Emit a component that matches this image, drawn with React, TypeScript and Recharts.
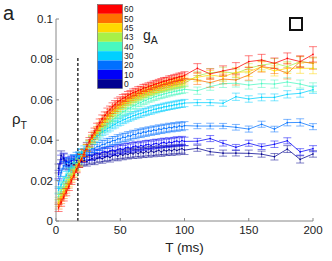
import { LineChart, Line, XAxis, YAxis, ErrorBar, ReferenceLine, Legend } from 'recharts';

const FONT = '"Liberation Sans", Arial, sans-serif';

// T (ms): every 2 ms up to 100, then every 10 ms
const T_DENSE = [
  2, 4, 6, 8, 10, 12, 14, 16, 18, 20, 22, 24, 26, 28, 30, 32, 34, 36, 38, 40, 42, 44, 46, 48, 50,
  52, 54, 56, 58, 60, 62, 64, 66, 68, 70, 72, 74, 76, 78, 80, 82, 84, 86, 88, 90, 92, 94, 96, 98, 100,
];
const T_SPARSE = [110, 120, 130, 140, 150, 160, 170, 180, 190, 200];
const T_MS = [...T_DENSE, ...T_SPARSE];

const G_A = ['0', '10', '20', '30', '40', '43', '45', '50', '60'];
const COLORS = ['#000090', '#0000f8', '#0070ff', '#00d0ff', '#48f8c0', '#a8f048', '#ffd800', '#ff7000', '#ff0000'];

// rho_T, in units of 1e-3 (dense part then sparse part)
const RHO_0 = [
  26.0, 32.5, 31.0, 28.0, 27.5, 28.5, 28.0, 29.0, 28.8, 29.5, 30.0, 29.4, 30.3, 30.8, 30.1, 31.0, 31.5, 30.8, 31.6, 32.1,
  31.4, 32.3, 32.8, 32.0, 33.1, 32.5, 33.4, 32.9, 33.7, 33.2, 34.0, 33.3, 34.2, 33.6, 34.4, 33.8, 34.7, 34.0, 34.5, 35.0,
  34.2, 35.1, 34.6, 35.3, 34.7, 35.5, 34.9, 35.4, 35.8, 35.1,
  36.0, 34.3, 33.6, 33.6, 33.5, 33.1, 31.8, 35.6, 30.5, 33.2,
];
const RHO_10 = [
  23.0, 30.5, 31.5, 29.5, 29.0, 29.8, 30.3, 30.0, 31.0, 31.4, 31.0, 32.1, 32.5, 32.0, 33.1, 33.4, 33.0, 34.0, 34.3, 33.9,
  34.8, 35.1, 34.6, 35.5, 35.8, 35.3, 36.2, 36.5, 36.0, 36.8, 37.1, 36.6, 37.4, 37.0, 37.7, 37.9, 37.4, 38.1, 38.4, 37.9,
  38.6, 38.9, 38.4, 39.1, 38.7, 39.3, 39.6, 39.1, 39.8, 39.4,
  39.5, 40.8, 38.5, 36.5, 38.5, 36.8, 38.0, 39.7, 34.2, 35.8,
];
const RHO_20 = [
  18.2, 24.1, 27.3, 28.8, 29.4, 30.6, 30.9, 32.0, 32.2, 33.4, 33.5, 34.6, 34.7, 35.8, 35.9, 36.9, 37.0, 37.9, 38.0, 38.9,
  38.9, 39.8, 39.8, 40.7, 40.6, 41.5, 41.3, 42.2, 42.0, 42.9, 42.7, 43.6, 43.3, 44.1, 43.9, 44.6, 44.4, 45.1, 44.8, 45.6,
  45.3, 46.0, 45.7, 46.4, 46.1, 46.7, 46.4, 47.1, 46.7, 47.2,
  47.0, 47.0, 47.0, 46.4, 45.5, 47.9, 45.5, 48.7, 48.8, 46.7,
];
const RHO_30 = [
  15.2, 17.9, 20.1, 22.7, 24.6, 26.9, 28.6, 30.7, 32.2, 34.1, 35.4, 37.1, 38.3, 39.8, 40.8, 42.1, 42.9, 44.1, 44.8, 45.8,
  46.4, 47.4, 47.9, 48.8, 49.2, 50.0, 50.4, 51.1, 51.4, 52.1, 52.4, 53.0, 53.2, 53.8, 54.0, 54.6, 54.7, 55.3, 55.4, 55.9,
  56.0, 56.5, 56.6, 57.0, 57.1, 57.5, 57.6, 58.0, 58.0, 58.4,
  58.6, 58.6, 58.3, 61.5, 60.4, 61.2, 61.2, 62.7, 63.2, 65.0,
];
const RHO_40 = [
  12.2, 14.9, 17.2, 19.8, 21.7, 24.3, 26.1, 28.6, 30.2, 32.5, 34.0, 36.2, 37.5, 39.6, 40.8, 42.7, 43.7, 45.5, 46.4, 48.0,
  48.8, 50.2, 50.9, 52.2, 52.8, 54.0, 54.5, 55.6, 56.0, 57.0, 57.4, 58.3, 58.6, 59.4, 59.7, 60.5, 60.7, 61.4, 61.6, 62.2,
  62.4, 62.9, 63.1, 63.6, 63.7, 64.2, 64.3, 64.7, 64.8, 65.2,
  64.5, 66.5, 68.0, 68.2, 67.3, 68.0, 67.8, 68.8, 67.8, 66.2,
];
const RHO_43 = [
  10.0, 12.7, 15.0, 17.8, 19.9, 22.6, 24.7, 27.3, 29.3, 31.8, 33.7, 36.1, 37.9, 40.2, 41.8, 43.9, 45.4, 47.3, 48.5, 50.2,
  51.2, 52.8, 53.7, 55.1, 55.8, 57.0, 57.6, 58.7, 59.2, 60.2, 60.6, 61.5, 61.8, 62.6, 62.8, 63.6, 63.8, 64.5, 64.6, 65.3,
  65.4, 66.0, 66.0, 66.6, 66.6, 67.2, 67.2, 67.7, 67.7, 68.2,
  71.9, 73.4, 73.9, 73.1, 75.6, 77.2, 78.1, 76.4, 78.9, 78.1,
];
const RHO_45 = [
  8.8, 11.5, 13.9, 16.6, 18.9, 21.6, 23.9, 26.6, 28.9, 31.4, 33.6, 36.1, 38.1, 40.4, 42.2, 44.4, 46.0, 48.0, 49.4, 51.1,
  52.3, 53.8, 54.8, 56.1, 56.9, 58.0, 58.7, 59.7, 60.2, 61.1, 61.5, 62.3, 62.7, 63.4, 63.7, 64.4, 64.6, 65.3, 65.5, 66.1,
  66.3, 66.9, 67.0, 67.6, 67.7, 68.3, 68.4, 68.9, 69.0, 69.5,
  71.1, 72.3, 71.4, 73.6, 73.9, 76.4, 74.3, 75.6, 75.6, 75.6,
];
const RHO_50 = [
  7.6, 10.3, 12.8, 15.5, 18.0, 20.8, 23.2, 26.1, 28.5, 31.1, 33.5, 36.1, 38.5, 40.9, 42.9, 45.1, 46.9, 49.0, 50.4, 52.2,
  53.4, 55.0, 55.9, 57.3, 58.0, 59.1, 59.8, 60.7, 61.3, 62.1, 62.6, 63.3, 63.7, 64.4, 64.6, 65.4, 65.6, 66.3, 66.5, 67.1,
  67.3, 67.9, 68.0, 68.6, 68.8, 69.3, 69.4, 70.0, 70.0, 70.6,
  69.8, 68.5, 70.3, 69.8, 72.3, 76.4, 75.6, 73.1, 78.9, 78.1,
];
const RHO_60 = [
  6.5, 9.1, 11.7, 14.3, 16.9, 19.9, 22.4, 25.7, 28.3, 31.1, 33.8, 36.9, 39.5, 42.1, 44.2, 46.6, 48.7, 50.7, 52.2, 54.1,
  55.1, 56.7, 57.8, 59.0, 59.7, 60.8, 61.2, 62.3, 62.8, 63.6, 63.9, 64.7, 64.9, 65.8, 66.0, 66.6, 66.9, 67.5, 67.8, 68.3,
  68.7, 69.2, 69.3, 70.0, 70.1, 70.6, 70.9, 71.4, 71.5, 72.1,
  75.6, 72.8, 74.3, 75.6, 78.9, 79.7, 78.1, 80.5, 78.9, 82.5,
];

// error bars (1e-3): one typical value for the dense part, then per point for T > 100
const ERR_DENSE = [2.2, 2.1, 2.0, 1.8, 1.7, 1.7, 1.7, 1.7, 1.8];
const ERR_0 = [1.5, 1.6, 1.5, 1.4, 1.6, 1.5, 1.6, 1.7, 1.8, 1.6];
const ERR_10 = [1.4, 1.5, 1.4, 1.4, 1.5, 1.4, 1.6, 1.5, 1.6, 1.5];
const ERR_20 = [1.3, 1.4, 1.3, 1.4, 1.5, 1.5, 1.4, 1.6, 1.8, 1.5];
const ERR_30 = [1.5, 1.5, 1.5, 1.8, 1.6, 1.7, 1.7, 1.8, 1.9, 1.8];
const ERR_40 = [1.8, 1.8, 1.9, 1.9, 2.0, 1.9, 2.0, 2.1, 2.0, 2.2];
const ERR_43 = [2.0, 2.1, 2.2, 2.1, 2.3, 2.4, 2.3, 2.5, 2.4, 2.6];
const ERR_45 = [2.1, 2.2, 2.2, 2.3, 2.4, 2.4, 2.5, 2.6, 2.5, 2.7];
const ERR_50 = [2.2, 2.3, 2.4, 2.5, 2.6, 2.7, 2.6, 2.8, 2.7, 3.0];
const ERR_60 = [2.3, 2.5, 2.5, 2.8, 2.9, 2.8, 2.6, 2.7, 2.8, 3.8];

const Y_TICKS = [0, 0.02, 0.04, 0.06, 0.08, 0.1];
const X_TICKS = [0, 50, 100, 150, 200];
const T_CUT = 17;

const RHO = [RHO_0, RHO_10, RHO_20, RHO_30, RHO_40, RHO_43, RHO_45, RHO_50, RHO_60];
const ERR_SPARSE = [ERR_0, ERR_10, ERR_20, ERR_30, ERR_40, ERR_43, ERR_45, ERR_50, ERR_60];

const data = T_MS.map((t, i) => {
  const row: Record<string, number> = { t };
  G_A.forEach((g, k) => {
    row['g' + g] = RHO[k][i] * 1e-3;
    row['e' + g] = (i < T_DENSE.length ? ERR_DENSE[k] : ERR_SPARSE[k][i - T_DENSE.length]) * 1e-3;
  });
  return row;
});

function ColorBar() {
  const bandH = 84 / G_A.length;
  const items = G_A.map((g, i) => ({ g, c: COLORS[i] })).reverse();
  return (
    <svg width={70} height={90} style={{ fontFamily: FONT, display: 'block' }}>
      {items.map((it, i) => (
        <rect key={it.g} x={0.5} y={0.5 + i * bandH} width={25} height={bandH} fill={it.c} />
      ))}
      <rect x={0.5} y={0.5} width={25} height={84} fill="none" stroke="#666" strokeWidth={0.6} />
      {items.map((it, i) => (
        <text key={it.g} x={27} y={0.5 + i * bandH + bandH / 2 + 3} fontSize={8.5} fill="#222">{it.g}</text>
      ))}
      <text x={46} y={36} fontSize={14} fill="#222">g<tspan fontSize={10.5} dy={4}>A</tspan></text>
    </svg>
  );
}

function RhoLabel({ viewBox }: any) {
  const y = viewBox.y + viewBox.height / 2 + 4;
  return (
    <text x={viewBox.x + 12} y={y} fontSize={15} fill="#222" style={{ fontFamily: FONT }}>
      ρ<tspan fontSize={10.5} dy={5}>T</tspan>
    </text>
  );
}

export default function App() {
  return (
    <div style={{ position: 'absolute', left: 0, top: 0, width: 332, height: 261, background: '#fff', fontFamily: FONT }}>
      <LineChart width={332} height={261} data={data} margin={{ top: 19, right: 19, bottom: 0, left: 0 }}>
        <XAxis
          dataKey="t"
          type="number"
          domain={[0, 200]}
          ticks={X_TICKS}
          height={40}
          tickSize={-3}
          tickMargin={8}
          axisLine={{ stroke: '#888' }}
          tickLine={{ stroke: '#888' }}
          tick={{ fontSize: 11.5, fill: '#222' }}
          label={{ value: 'T (ms)', position: 'insideBottom', offset: 9, fontSize: 13.5, fill: '#222' }}
        />
        <YAxis
          type="number"
          domain={[0, 0.1]}
          ticks={Y_TICKS}
          width={56}
          tickSize={-3}
          tickMargin={6}
          axisLine={{ stroke: '#888' }}
          tickLine={{ stroke: '#888' }}
          tick={{ fontSize: 11.5, fill: '#222' }}
          label={{ content: RhoLabel }}
        />
        <ReferenceLine
          segment={[{ x: T_CUT, y: 0 }, { x: T_CUT, y: 0.081 }]}
          stroke="#333"
          strokeWidth={1.5}
          strokeDasharray="3 2"
        />
        {G_A.map((g, k) => (
          <Line
            key={g}
            dataKey={'g' + g}
            type="linear"
            stroke={COLORS[k]}
            strokeWidth={1}
            strokeOpacity={0.75}
            dot={{ r: 0.8, fill: COLORS[k], stroke: 'none' }}
            activeDot={false}
            isAnimationActive={false}
          >
            <ErrorBar dataKey={'e' + g} direction="y" width={4} stroke={COLORS[k]} strokeOpacity={0.5} strokeWidth={1} />
          </Line>
        ))}
        <Legend
          layout="vertical"
          align="center"
          verticalAlign="middle"
          wrapperStyle={{ left: 97, top: 4, width: 70 }}
          content={() => <ColorBar />}
        />
      </LineChart>
      <svg width={332} height={261} style={{ position: 'absolute', left: 0, top: 0, pointerEvents: 'none', fontFamily: FONT }}>
        <text x={3} y={20} fontSize={20} fill="#222">a</text>
        <rect x={290} y={18} width={12} height={12} fill="#fff" stroke="#111" strokeWidth={2} />
      </svg>
    </div>
  );
}
